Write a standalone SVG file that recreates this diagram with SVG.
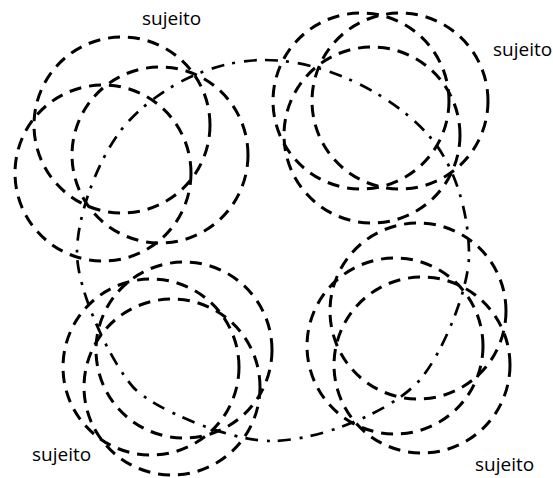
<svg xmlns="http://www.w3.org/2000/svg" width="553" height="478" viewBox="0 0 553 478">
<style>
.c{fill:none;stroke:#000;stroke-width:3;stroke-dasharray:12 8}
.l{fill:none;stroke:#000;stroke-width:2.7;stroke-dasharray:13 8 3 9}
.t{font-family:"Open Sans","Liberation Sans",sans-serif;font-size:19px;fill:#000}
</style>
<rect width="553" height="478" fill="#fff"/>
<g id="connectors">
<path class="l" d="M265,60 C325,60 394,95 430,137 C456,167 469,215 469,255 C469,290 441,358 417,383 C389,412 320,441 270,441 C230,441 153,409 133,387 C110,361 77,290 77,253 C77,210 103,149 127,123 C154,93 205,60 265,60 Z"/>
</g>
<g id="subject-top-left">
<circle class="c" cx="122" cy="125" r="88"/>
<circle class="c" cx="103" cy="173" r="88"/>
<circle class="c" cx="160" cy="155" r="88"/>
<text class="t" x="142" y="25">sujeito</text>
</g>
<g id="subject-top-right">
<circle class="c" cx="361" cy="101" r="88"/>
<circle class="c" cx="400" cy="101" r="88"/>
<circle class="c" cx="372" cy="135" r="88"/>
<text class="t" x="493" y="56">sujeito</text>
</g>
<g id="subject-bottom-left">
<circle class="c" cx="151" cy="367" r="88"/>
<circle class="c" cx="184" cy="350" r="88"/>
<circle class="c" cx="172" cy="387" r="88"/>
<text class="t" x="32" y="461">sujeito</text>
</g>
<g id="subject-bottom-right">
<circle class="c" cx="395" cy="346" r="88"/>
<circle class="c" cx="418" cy="311" r="88"/>
<circle class="c" cx="422" cy="365" r="88"/>
<text class="t" x="475" y="471">sujeito</text>
</g>
</svg>
